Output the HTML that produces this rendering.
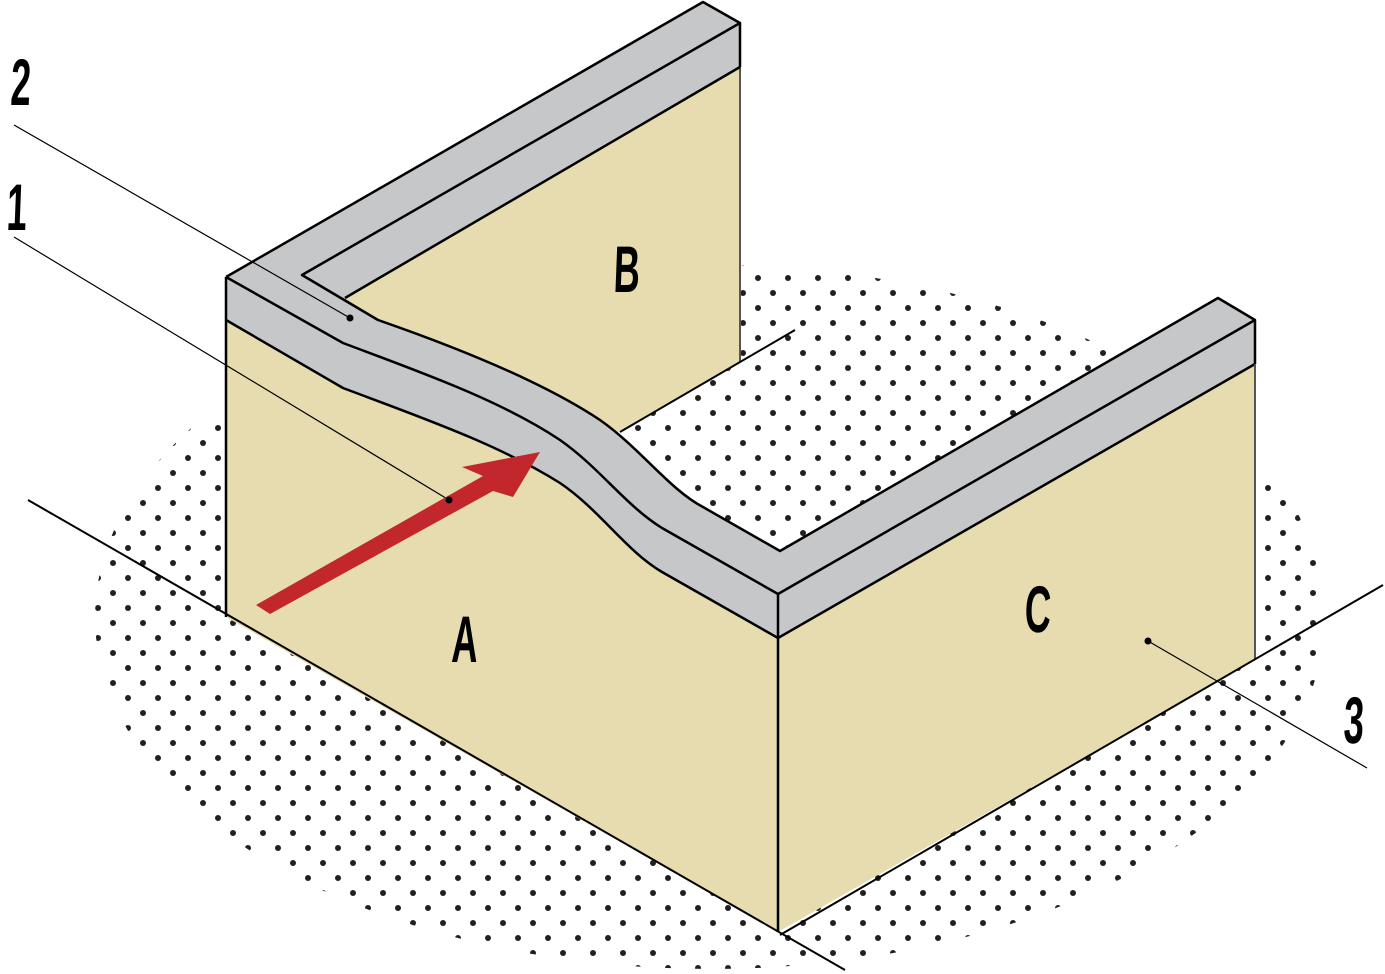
<!DOCTYPE html>
<html><head><meta charset="utf-8"><style>
html,body{margin:0;padding:0;background:#fff;}
svg{display:block;}
.lbl{font-family:"Liberation Sans",sans-serif;font-weight:bold;font-size:66px;fill:#000;}
</style></head><body>
<svg width="1385" height="974" viewBox="0 0 1385 974" xmlns="http://www.w3.org/2000/svg">
<defs>
<pattern id="dots" x="0" y="0" width="30" height="30" patternUnits="userSpaceOnUse">
<circle cx="8" cy="8" r="3" fill="#231f20"/>
<circle cx="23" cy="23" r="3" fill="#231f20"/>
</pattern>
</defs>
<ellipse cx="710" cy="617" rx="615" ry="352" fill="url(#dots)"/>
<polygon points="345,298 740,67 740,362 620,432 500,420 400,360" fill="#e6dcb0"/>
<line x1="740" y1="67" x2="740" y2="362" stroke="#555" stroke-width="2"/>
<line x1="795" y1="330" x2="620" y2="432" stroke="#000" stroke-width="2"/>
<path d="M226,320 L343,388 C420,417 500,445 560,483 C600,510 625,550 662,572 L778,638 L778,932 L226,617 Z" fill="#e6dcb0"/>
<path d="M226,277 L343,343 C420,372 500,400 560,440 C600,468 625,505 662,528 L778,594 L778,638 L662,572 C625,550 600,510 560,483 C500,445 420,417 343,388 L226,320 Z" fill="#c6c7c9"/>
<path d="M226,277 L703,2 L740,23 L740,67 L345,298 L378,320 C450,345 540,380 600,420 C640,448 670,490 703,507 L780,551 L1218,298 L1255,320 L778,594 L662,528 C625,505 600,468 560,440 C500,400 420,372 343,343 Z" fill="#c6c7c9"/>
<polygon points="778,594 1255,320 1255,364 778,638" fill="#c6c7c9"/>
<polygon points="778,638 1255,364 1255,660 778,932" fill="#e6dcb0"/>
<g fill="none" stroke="#000" stroke-width="2.5" stroke-linejoin="round">
<path d="M226,277 L343,343 C420,372 500,400 560,440 C600,468 625,505 662,528 L778,594 L1255,320"/>
<path d="M226,320 L343,388 C420,417 500,445 560,483 C600,510 625,550 662,572 L778,638 L1255,364"/>
<path d="M226,277 L703,2 L740,23 L302,275 L378,320 C450,345 540,380 600,420 C640,448 670,490 703,507 L780,551 L1218,298 L1255,320 L1255,364"/>
<line x1="740" y1="67" x2="345" y2="298"/>
<line x1="740" y1="23" x2="740" y2="67"/>
<line x1="778" y1="594" x2="778" y2="932"/>
<line x1="226" y1="277" x2="226" y2="617"/>
</g>
<line x1="1255" y1="364" x2="1255" y2="660" stroke="#555" stroke-width="2"/>
<line x1="28" y1="500" x2="845" y2="970" stroke="#000" stroke-width="2"/>
<line x1="1383" y1="585" x2="780" y2="935" stroke="#000" stroke-width="2"/>
<line x1="14" y1="125" x2="350" y2="318" stroke="#000" stroke-width="1.2"/>
<circle cx="350" cy="318" r="3.5" fill="#000"/>
<line x1="14" y1="237" x2="449" y2="500" stroke="#000" stroke-width="1.2"/>
<line x1="1148" y1="641" x2="1367" y2="768" stroke="#000" stroke-width="1.2"/>
<circle cx="1148" cy="641" r="3.5" fill="#000"/>
<polygon points="256,605 483,476 462,467 540,452 513,497 493,491 270,614" fill="#c1272d"/>
<circle cx="449" cy="500" r="3.5" fill="#000"/>
<text class="lbl" transform="translate(10,105) scale(0.55,1) skewX(-4)">2</text>
<text class="lbl" transform="translate(6,230) scale(0.55,1) skewX(-4)">1</text>
<text class="lbl" transform="translate(613,292) scale(0.55,1) skewX(-4)">B</text>
<text class="lbl" transform="translate(451,662) scale(0.55,1) skewX(-4)">A</text>
<text class="lbl" transform="translate(1024,632) scale(0.55,1) skewX(-4)">C</text>
<text class="lbl" transform="translate(1343,743) scale(0.55,1) skewX(-4)">3</text>
</svg>
</body></html>
